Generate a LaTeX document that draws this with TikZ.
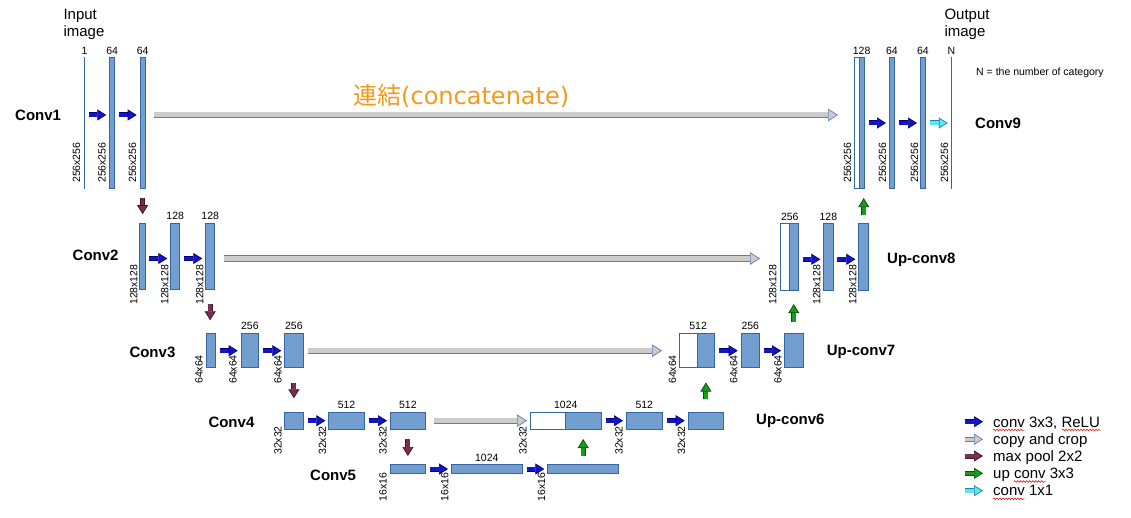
\documentclass[tikz,border=0pt]{standalone}
\usepackage{fontspec}
\setmainfont{Liberation Sans}
\newfontfamily\cjk{Noto Sans CJK JP}
\newfontfamily\dejavu{DejaVu Sans}
\usetikzlibrary{arrows.meta,positioning,decorations.pathmorphing}
\definecolor{BarFill}{HTML}{729FCF}
\definecolor{BarEdge}{HTML}{3465A4}
\definecolor{ConvFill}{HTML}{1414C8}
\definecolor{ConvEdge}{HTML}{00007A}
\definecolor{CopyFill}{HTML}{CCCCCC}
\definecolor{CopyEdge}{HTML}{5B7DB1}
\definecolor{PoolFill}{HTML}{7B2D4F}
\definecolor{PoolEdge}{HTML}{3E1428}
\definecolor{UpFill}{HTML}{169E16}
\definecolor{UpEdge}{HTML}{0A4A0A}
\definecolor{OneFill}{HTML}{5CE6F2}
\definecolor{OneEdge}{HTML}{2A7FA8}
\definecolor{ConcatOrange}{HTML}{F39A1E}
\tikzset{
  bar/.style={draw=BarEdge,fill=BarFill,line width=0.8pt,inner sep=0pt,minimum size=0pt,anchor=north west},
  catbar/.style={bar,fill=white},
  num/.style={font=\fontsize{10.5}{12}\selectfont,inner sep=1pt,above=1.5pt},
  dim/.style={font=\fontsize{10.5}{12}\selectfont,inner sep=1pt,rotate=90,anchor=south west},
  stage/.style={font=\fontsize{15}{17}\selectfont\bfseries,inner sep=0pt,anchor=west},
  legend/.style={font=\fontsize{15}{17}\selectfont,inner sep=0pt,anchor=base west},
  blk/.style 2 args={draw=#1,double=#2,double distance=3.6pt,line width=0.7pt,
    -{Triangle[length=9pt,width=11pt,fill=#2,line width=0.7pt]}},
  conv/.style={blk={ConvEdge}{ConvFill},shorten <=4pt,shorten >=3pt},
  pool/.style={blk={PoolEdge}{PoolFill}},
  upconv/.style={blk={UpEdge}{UpFill}},
  onebyone/.style={blk={OneEdge}{OneFill},shorten <=4pt,shorten >=3pt},
  copy/.style={draw=CopyEdge,double=CopyFill,double distance=5pt,line width=0.7pt,
    -{Triangle[length=10pt,width=12.5pt,fill=CopyFill,line width=0.7pt]}},
  squig/.style={draw=red!90!black,line width=0.5pt,decorate,decoration={snake,amplitude=0.9pt,segment length=3pt}}
}
\begin{document}
\begin{tikzpicture}[x=1pt,y=-1pt]
\useasboundingbox (0,0) rectangle (1131,518);
% heights of the arrows in each row
\coordinate (r1) at (0,115);
\coordinate (r2) at (0,258.5);
\coordinate (r3) at (0,350.7);
\coordinate (r4) at (0,420.7);
\coordinate (r5) at (0,469);
\coordinate (r8) at (0,259.3);
\coordinate (r9) at (0,123);

% Conv1
\node[bar,minimum width=0.6pt,minimum height=131pt] (c1a) at (83.8,57.3) {};
\node[bar,minimum width=5pt,minimum height=131pt] (c1b) at (109.3,57.3) {};
\node[bar,minimum width=5pt,minimum height=131pt] (c1c) at (139.7,57.3) {};
\node[num] at (c1a.north) {1};
\node[num] at (c1b.north) {64};
\node[num] at (c1c.north) {64};
\node[dim] at (81.5,184) {256x256};
\node[dim] at (107,184) {256x256};
\node[dim] at (137.5,184) {256x256};
\draw[conv] (c1a.east |- r1) -- (c1b.west |- r1);
\draw[conv] (c1b.east |- r1) -- (c1c.west |- r1);
\node[stage] (conv1) at (15,115) {Conv1};
\node[font=\fontsize{15}{17}\selectfont,align=left,inner sep=0pt,anchor=north west] (inimg) at (63.3,9.3) {Input\\image};

% Conv2
\node[bar,minimum width=5.3pt,minimum height=66.7pt] (c2a) at (139.3,222.7) {};
\node[bar,minimum width=9pt,minimum height=66.7pt] (c2b) at (170.3,222.7) {};
\node[bar,minimum width=9pt,minimum height=66.7pt] (c2c) at (205.3,222.7) {};
\node[num] at (c2b.north) {128};
\node[num] at (c2c.north) {128};
\node[dim] at (138.7,306) {128x128};
\node[dim] at (169.7,306) {128x128};
\node[dim] at (204.7,306) {128x128};
\draw[conv] (c2a.east |- r2) -- (c2b.west |- r2);
\draw[conv] (c2b.east |- r2) -- (c2c.west |- r2);
\draw[pool,shorten <=9pt,shorten >=8.5pt] (c1c.south) -- (c1c.south |- c2a.north);
\node[stage] (conv2) at (72.5,255) {Conv2};

% Conv3
\node[bar,minimum width=9.3pt,minimum height=34pt] (c3a) at (205.7,332.7) {};
\node[bar,minimum width=17.6pt,minimum height=34pt] (c3b) at (240.7,332.7) {};
\node[bar,minimum width=18.4pt,minimum height=34pt] (c3c) at (284.3,332.7) {};
\node[num] at (c3b.north) {256};
\node[num] at (c3c.north) {256};
\node[dim] at (204,385) {64x64};
\node[dim] at (238,385) {64x64};
\node[dim] at (283,385) {64x64};
\draw[conv] (c3a.east |- r3) -- (c3b.west |- r3);
\draw[conv] (c3b.east |- r3) -- (c3c.west |- r3);
\draw[pool,shorten <=13.7pt,shorten >=12.4pt] (c2c.south) -- (c2c.south |- c3a.north);
\node[stage] (conv3) at (129.3,352) {Conv3};

% Conv4
\node[bar,minimum width=19pt,minimum height=17.3pt] (c4a) at (284.3,411.7) {};
\node[bar,minimum width=35.7pt,minimum height=17.3pt] (c4b) at (328.3,411.7) {};
\node[bar,minimum width=35pt,minimum height=17.3pt] (c4c) at (390,411.7) {};
\node[num] at (c4b.north) {512};
\node[num] at (c4c.north) {512};
\node[dim] at (283,456) {32x32};
\node[dim] at (327.5,456) {32x32};
\node[dim] at (388,456) {32x32};
\draw[conv] (c4a.east |- r4) -- (c4b.west |- r4);
\draw[conv] (c4b.east |- r4) -- (c4c.west |- r4);
\draw[pool,shorten <=15pt,shorten >=13.4pt] (c3c.south) -- (c3c.south |- c4a.north);
\node[stage] (conv4) at (208.3,422) {Conv4};

% Conv5
\node[bar,minimum width=35pt,minimum height=9.3pt] (c5a) at (390,464) {};
\node[bar,minimum width=70.7pt,minimum height=9.3pt] (c5b) at (451,464) {};
\node[bar,minimum width=71pt,minimum height=9.3pt] (c5c) at (547.3,464) {};
\node[num] at (c5b.north) {1024};
\node[dim] at (388,502.5) {16x16};
\node[dim] at (449.7,502.5) {16x16};
\node[dim] at (546.5,502.5) {16x16};
\draw[conv] (c5a.east |- r5) -- (c5b.west |- r5);
\draw[conv] (c5b.east |- r5) -- (c5c.west |- r5);
\draw[pool,shorten <=9.3pt,shorten >=8pt] (c4c.south) -- (c4c.south |- c5a.north);
\node[stage] (conv5) at (310,475) {Conv5};

% Up-conv6
\node[catbar,minimum width=35pt,minimum height=17.3pt] (u6a) at (530,411.7) {};
\node[bar,minimum width=35.7pt,minimum height=17.3pt] (u6b) at (565,411.7) {};
\node[bar,minimum width=35.7pt,minimum height=17.3pt] (u6c) at (626,411.7) {};
\node[bar,minimum width=35.6pt,minimum height=17.3pt] (u6d) at (687.7,411.7) {};
\node[num] at (u6a.north east) {1024};
\node[num] at (u6c.north) {512};
\node[dim] at (528,456) {32x32};
\node[dim] at (624,456) {32x32};
\node[dim] at (686.5,456) {32x32};
\draw[conv] (u6b.east |- r4) -- (u6c.west |- r4);
\draw[conv] (u6c.east |- r4) -- (u6d.west |- r4);
\draw[upconv,shorten <=8pt,shorten >=9.3pt] (c5c.north) -- (c5c.north |- u6b.south);
\draw[copy,shorten <=8.3pt,shorten >=3pt] (c4c.east |- r4) -- (u6a.west |- r4);
\node[stage] (up6) at (756,421) {Up-conv6};

% Up-conv7
\node[catbar,minimum width=18pt,minimum height=34pt] (u7a) at (679.3,332.7) {};
\node[bar,minimum width=17pt,minimum height=34pt] (u7b) at (697.3,332.7) {};
\node[bar,minimum width=18.3pt,minimum height=34pt] (u7c) at (740.7,332.7) {};
\node[bar,minimum width=18.7pt,minimum height=34pt] (u7d) at (784,332.7) {};
\node[num] at (u7a.north east) {512};
\node[num] at (u7c.north) {256};
\node[dim] at (677.5,385) {64x64};
\node[dim] at (738.7,385) {64x64};
\node[dim] at (783,385) {64x64};
\draw[conv] (u7b.east |- r3) -- (u7c.west |- r3);
\draw[conv] (u7c.east |- r3) -- (u7d.west |- r3);
\draw[upconv,shorten <=12.3pt,shorten >=15pt] (u6d.north) -- (u6d.north |- u7b.south);
\draw[copy,shorten <=4pt,shorten >=17.3pt] (c3c.east |- r3) -- (u7a.west |- r3);
\node[stage] (up7) at (826.7,352) {Up-conv7};

% Up-conv8
\node[catbar,minimum width=9pt,minimum height=67pt] (u8a) at (780,223.3) {};
\node[bar,minimum width=9.3pt,minimum height=67pt] (u8b) at (789,223.3) {};
\node[bar,minimum width=9.3pt,minimum height=67pt] (u8c) at (823.3,223.3) {};
\node[bar,minimum width=10pt,minimum height=67pt] (u8d) at (858.3,223.3) {};
\node[num] at (u8a.north east) {256};
\node[num] at (u8c.north) {128};
\node[dim] at (777.7,306) {128x128};
\node[dim] at (821.7,306) {128x128};
\node[dim] at (857.7,306) {128x128};
\draw[conv] (u8b.east |- r8) -- (u8c.west |- r8);
\draw[conv] (u8c.east |- r8) -- (u8d.west |- r8);
\draw[upconv,shorten <=10.7pt,shorten >=13pt] (u7d.north) -- (u7d.north |- u8b.south);
\draw[copy,shorten <=8.7pt,shorten >=20pt] (c2c.east |- r2) -- (u8a.west |- r2);
\node[stage] (up8) at (887,260) {Up-conv8};

% Conv9
\node[catbar,minimum width=4.4pt,minimum height=131pt] (c9a) at (854.3,57.3) {};
\node[bar,minimum width=5pt,minimum height=131pt] (c9b) at (858.7,57.3) {};
\node[bar,minimum width=5pt,minimum height=131pt] (c9c) at (889,57.3) {};
\node[bar,minimum width=5pt,minimum height=131pt] (c9d) at (920,57.3) {};
\node[bar,minimum width=0.6pt,minimum height=131pt] (c9e) at (950.8,57.3) {};
\node[num] at (c9b.north) {128};
\node[num] at (c9c.north) {64};
\node[num] at (c9d.north) {64};
\node[num] at (c9e.north) {N};
\node[dim] at (852.5,184) {256x256};
\node[dim] at (887.5,184) {256x256};
\node[dim] at (919.5,184) {256x256};
\node[dim] at (949.5,184) {256x256};
\draw[conv] (c9b.east |- r9) -- (c9c.west |- r9);
\draw[conv] (c9c.east |- r9) -- (c9d.west |- r9);
\draw[onebyone] (c9d.east |- r9) -- (c9e.west |- r9);
\draw[upconv,shorten <=8pt,shorten >=9pt] (u8d.north) -- (u8d.north |- c9b.south);
\draw[copy,shorten <=8.3pt,shorten >=16.3pt] (c1c.east |- r1) -- (c9a.west |- r1);
\node[stage] (conv9) at (975,123) {Conv9};
\node[font=\fontsize{15}{17}\selectfont,align=left,inner sep=0pt,anchor=north west] (outimg) at (944.3,9.3) {Output\\image};
\node[font=\fontsize{10.5}{12}\selectfont,inner sep=0pt,anchor=west] (ncat) at (976,72.3) {N = the number of category};

% concatenate label
\node[text=ConcatOrange,inner sep=0pt,anchor=west] (concat) at (353,95.7)
  {\fontsize{24}{26}\selectfont{\cjk 連結}{\dejavu (concatenate)}};

% legend
\node[legend] (l1) at (993,427) {conv 3x3, ReLU};
\node[legend] (l2) at (993,444.3) {copy and crop};
\node[legend] (l3) at (993,461.3) {max pool 2x2};
\node[legend] (l4) at (993,478.5) {up conv 3x3};
\node[legend] (l5) at (993,495.8) {conv 1x1};
\coordinate (k1) at (965,421.7);
\coordinate (k2) at (965,439.3);
\coordinate (k3) at (965,456);
\coordinate (k4) at (965,473.3);
\coordinate (k5) at (965,490.7);
\draw[blk={ConvEdge}{ConvFill},shorten >=10pt] (k1) -- (k1 -| l1.west);
\draw[blk={CopyEdge}{CopyFill},shorten >=10pt] (k2) -- (k2 -| l2.west);
\draw[blk={PoolEdge}{PoolFill},shorten >=10pt] (k3) -- (k3 -| l3.west);
\draw[blk={UpEdge}{UpFill},shorten >=10pt] (k4) -- (k4 -| l4.west);
\draw[blk={OneEdge}{OneFill},shorten >=10pt] (k5) -- (k5 -| l5.west);
\draw[squig] (993,430) -- (1024.7,430);
\draw[squig] (1062,430) -- (1100.5,430);
\draw[squig] (1013.8,481.5) -- (1045.5,481.5);
\draw[squig] (993,498.8) -- (1024.7,498.8);
\end{tikzpicture}
\end{document}
